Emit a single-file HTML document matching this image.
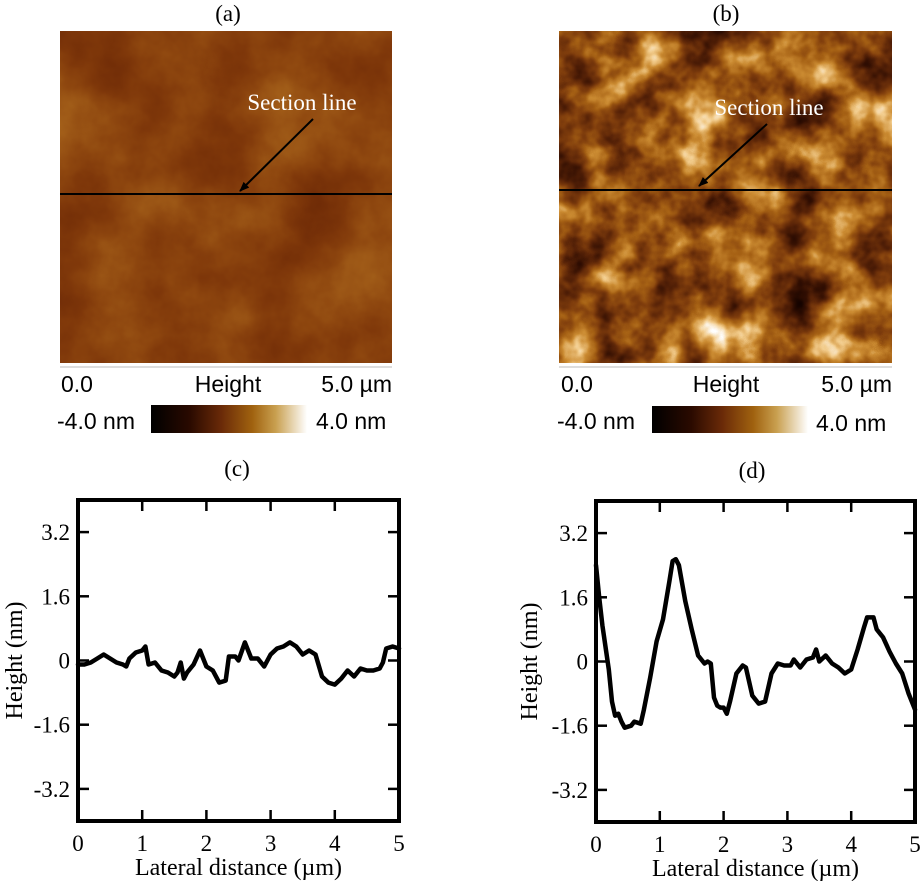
<!DOCTYPE html>
<html><head><meta charset="utf-8"><style>
html,body{margin:0;padding:0;background:#fff;width:923px;height:881px;overflow:hidden}
svg{display:block}
</style></head><body>
<svg id="fig" width="923" height="881" xmlns="http://www.w3.org/2000/svg">
<defs>
<filter id="texA" x="0" y="0" width="100%" height="100%" color-interpolation-filters="sRGB">
<feTurbulence type="fractalNoise" baseFrequency="0.012" numOctaves="5" seed="3"/>
<feColorMatrix type="matrix" values="1 0 0 0 0 1 0 0 0 0 1 0 0 0 0 0 0 0 0 1"/>
<feComponentTransfer>
<feFuncR type="table" tableValues="0.42 0.45 0.50 0.56 0.62 0.68"/>
<feFuncG type="table" tableValues="0.16 0.18 0.22 0.28 0.35 0.42"/>
<feFuncB type="table" tableValues="0.02 0.03 0.04 0.06 0.09 0.12"/>
<feFuncA type="table" tableValues="1 1"/>
</feComponentTransfer>
</filter>
<filter id="texB" x="0" y="0" width="100%" height="100%" color-interpolation-filters="sRGB">
<feTurbulence type="fractalNoise" baseFrequency="0.022" numOctaves="4" seed="11"/>
<feColorMatrix type="matrix" values="1 0 0 0 0 1 0 0 0 0 1 0 0 0 0 0 0 0 0 1"/>
<feComponentTransfer>
<feFuncR type="table" tableValues="0.05 0.1 0.2 0.35 0.5 0.65 0.8 0.95 1 1"/>
<feFuncG type="table" tableValues="0.0 0.02 0.06 0.14 0.24 0.38 0.55 0.8 1 1"/>
<feFuncB type="table" tableValues="0.0 0 0.01 0.03 0.05 0.08 0.2 0.55 1 1"/>
<feFuncA type="table" tableValues="1 1"/>
</feComponentTransfer>
</filter>
<linearGradient id="cbar" x1="0" x2="1" y1="0" y2="0">
<stop offset="0" stop-color="#000"/>
<stop offset="0.25" stop-color="#2a0a00"/>
<stop offset="0.45" stop-color="#6a2a08"/>
<stop offset="0.65" stop-color="#a0620f"/>
<stop offset="0.8" stop-color="#c9a050"/>
<stop offset="1" stop-color="#fff"/>
</linearGradient>
<marker id="ah" markerWidth="10" markerHeight="8" refX="9" refY="4" orient="auto" markerUnits="userSpaceOnUse"><path d="M0,0 L10,4 L0,8 Z" fill="#000"/></marker>
</defs>

<g font-family="Liberation Serif, serif" font-size="23" text-anchor="middle">
<text x="228" y="21">(a)</text>
<text x="726" y="21">(b)</text>
<text x="237" y="476">(c)</text>
<text x="752" y="478">(d)</text>
</g>

<g>
<rect x="60" y="31" width="332" height="332" filter="url(#texA)"/>
<line x1="60" y1="194" x2="392" y2="194" stroke="#000" stroke-width="2"/>
<line x1="313" y1="119" x2="240" y2="191" stroke="#000" stroke-width="2" marker-end="url(#ah)"/>
<text x="302" y="110" font-family="Liberation Serif, serif" font-size="23" fill="#fff" text-anchor="middle">Section line</text>
<line x1="60" y1="367" x2="392" y2="367" stroke="#bbb" stroke-width="1"/>
<g font-family="Liberation Sans, sans-serif" font-size="23">
<text x="61" y="392">0.0</text>
<text x="228" y="392" text-anchor="middle">Height</text>
<text x="392" y="392" text-anchor="end">5.0 µm</text>
<text x="57" y="429">-4.0 nm</text>
<text x="316" y="429">4.0 nm</text>
</g>
<rect x="151" y="405" width="156" height="28" fill="url(#cbar)"/>
</g>

<g>
<rect x="559" y="31" width="333" height="332" filter="url(#texB)"/>
<line x1="559" y1="190" x2="892" y2="190" stroke="#000" stroke-width="2"/>
<line x1="767" y1="124" x2="699" y2="186" stroke="#000" stroke-width="2" marker-end="url(#ah)"/>
<text x="769" y="115" font-family="Liberation Serif, serif" font-size="23" fill="#fff" text-anchor="middle">Section line</text>
<line x1="559" y1="367" x2="892" y2="367" stroke="#bbb" stroke-width="1"/>
<g font-family="Liberation Sans, sans-serif" font-size="23">
<text x="561" y="392">0.0</text>
<text x="726" y="392" text-anchor="middle">Height</text>
<text x="892" y="392" text-anchor="end">5.0 µm</text>
<text x="557" y="429">-4.0 nm</text>
<text x="816" y="431">4.0 nm</text>
</g>
<rect x="652" y="406" width="156" height="27" fill="url(#cbar)"/>
</g>

<g id="plotC"></g>
<g id="plotD"></g>
</svg>
<script>
const xTicks=[0,1,2,3,4,5];
const yTicks=[-3.2,-1.6,0,1.6,3.2];
const yTickLabels=["-3.2","-1.6","0","1.6","3.2"];
const cX=[0,0.1,0.2,0.3,0.4,0.5,0.6,0.7,0.75,0.8,0.9,1.0,1.05,1.1,1.2,1.3,1.4,1.5,1.55,1.6,1.65,1.7,1.8,1.9,2.0,2.1,2.2,2.3,2.35,2.45,2.5,2.6,2.7,2.8,2.9,3.0,3.1,3.2,3.3,3.4,3.5,3.6,3.7,3.8,3.9,4.0,4.1,4.2,4.3,4.4,4.5,4.6,4.7,4.75,4.8,4.9,5.0];
const cY=[-0.1,-0.1,-0.05,0.05,0.15,0.05,-0.05,-0.1,-0.15,0.05,0.2,0.25,0.35,-0.1,-0.05,-0.25,-0.3,-0.4,-0.3,-0.05,-0.45,-0.3,-0.1,0.25,-0.15,-0.25,-0.55,-0.5,0.1,0.1,0.0,0.45,0.05,0.05,-0.15,0.15,0.3,0.35,0.45,0.35,0.15,0.25,0.15,-0.4,-0.55,-0.6,-0.45,-0.25,-0.4,-0.2,-0.25,-0.25,-0.2,-0.05,0.3,0.35,0.3];
const dX=[0,0.05,0.1,0.2,0.25,0.3,0.35,0.4,0.45,0.55,0.6,0.7,0.75,0.85,0.95,1.05,1.15,1.2,1.25,1.3,1.4,1.5,1.6,1.7,1.75,1.8,1.85,1.9,1.95,2.0,2.05,2.1,2.2,2.3,2.35,2.45,2.55,2.65,2.75,2.85,2.95,3.05,3.1,3.2,3.3,3.4,3.45,3.5,3.6,3.7,3.8,3.9,4.0,4.1,4.2,4.25,4.35,4.4,4.5,4.6,4.7,4.8,4.9,5.0];
const dY=[2.4,1.6,0.9,-0.2,-1.0,-1.35,-1.3,-1.5,-1.65,-1.6,-1.5,-1.55,-1.2,-0.4,0.5,1.05,2.0,2.5,2.55,2.4,1.5,0.8,0.15,-0.05,0.0,-0.05,-0.9,-1.1,-1.15,-1.15,-1.3,-1.0,-0.3,-0.1,-0.15,-0.85,-1.05,-1.0,-0.3,-0.05,-0.1,-0.1,0.05,-0.15,0.05,0.1,0.3,0.0,0.15,-0.05,-0.15,-0.3,-0.2,0.3,0.85,1.1,1.1,0.8,0.6,0.25,-0.05,-0.3,-0.8,-1.2];
const NS='http://www.w3.org/2000/svg';
function mk(tag,attrs,parent){const e=document.createElementNS(NS,tag);for(const k in attrs)e.setAttribute(k,attrs[k]);parent.appendChild(e);return e;}
function drawPlot(g,L,T,W,H,xs,ys,labelX){
  const sx=v=>L+v/5*W, sy=v=>T+(4-v)/8*H;
  for(let i=0;i<xTicks.length;i++){
    const v=xTicks[i];
    if(v>0&&v<5){
      const t1=mk('line',{x1:sx(v),x2:sx(v),y1:T,y2:T+11,stroke:'#000','stroke-width':2.5},g);
      
      
      const t2=mk('line',{x1:sx(v),x2:sx(v),y1:T+H,y2:T+H-11,stroke:'#000','stroke-width':2.5},g);
      
      
    }
    const tl=mk('text',{x:sx(v),y:T+H+30,'text-anchor':'middle','font-family':'Liberation Serif, serif','font-size':23},g);
    tl.textContent=String(v);
    
    
  }
  for(let i=0;i<yTicks.length;i++){
    const v=yTicks[i];
    const a=mk('line',{x1:L,x2:L+11,y1:sy(v),y2:sy(v),stroke:'#000','stroke-width':2.5},g);
    
    
    const b=mk('line',{x1:L+W,x2:L+W-11,y1:sy(v),y2:sy(v),stroke:'#000','stroke-width':2.5},g);
    
    
    const tl=mk('text',{x:L-8,y:sy(v)+8,'text-anchor':'end','font-family':'Liberation Serif, serif','font-size':23},g);
    tl.textContent=yTickLabels[i];
    
    
  }
  const fr=mk('rect',{x:L,y:T,width:W,height:H,fill:'none',stroke:'#000','stroke-width':4},g);
  
  
  let d='';
  for(let i=0;i<xs.length;i++)d+=(i?'L':'M')+sx(xs[i]).toFixed(1)+','+sy(ys[i]).toFixed(1);
  const p=mk('path',{d:d,fill:'none',stroke:'#000','stroke-width':4.5,'stroke-linejoin':'round','stroke-linecap':'round'},g);
  
  
  const xt=mk('text',{x:L+W/2,y:T+H+54,'text-anchor':'middle','font-family':'Liberation Serif, serif','font-size':24},g);
  xt.textContent='Lateral distance (µm)';
  
  
  const yt=mk('text',{x:0,y:0,'text-anchor':'middle','font-family':'Liberation Serif, serif','font-size':24,transform:'translate('+labelX+','+(T+H/2)+') rotate(-90)'},g);
  yt.textContent='Height (nm)';
  
  
}
drawPlot(document.getElementById('plotC'),78,500,321,321,cX,cY,22);
drawPlot(document.getElementById('plotD'),596,501,319,321,dX,dY,537);
</script>
</body></html>
